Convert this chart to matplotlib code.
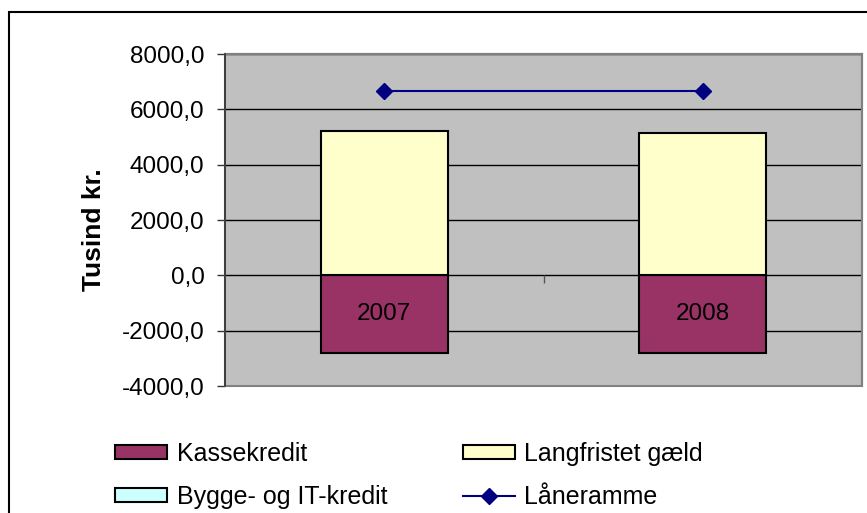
import matplotlib.pyplot as plt
import numpy as np
from matplotlib.patches import Patch, Rectangle
from matplotlib.lines import Line2D
from matplotlib.ticker import FuncFormatter, FixedLocator

plt.rcParams['font.family'] = ['Liberation Sans', 'DejaVu Sans']

years = ["2007", "2008"]
kassekredit = [-2800.0, -2800.0]
langfristet = [5230.0, 5150.0]
bygge_it = [0.0, 0.0]
laaneramme = [6670.0, 6670.0]
y_ticks = [-4000, -2000, 0, 2000, 4000, 6000, 8000]

fig = plt.figure(figsize=(8.67, 5.13), dpi=100)
ax = fig.add_axes([225 / 867, 1 - 386 / 513, 637 / 867, 332 / 513])
ax.set_facecolor("#C0C0C0")

x = np.arange(len(years))
width = 0.4

# gridlines drawn by hand so they stay under the bars
for t in y_ticks:
    ax.axhline(t, color="black", linewidth=1.0, zorder=0.5)

ax.bar(x, kassekredit, width, color="#993366", edgecolor="black", linewidth=1.5, zorder=1)
ax.bar(x, langfristet, width, color="#FFFFCC", edgecolor="black", linewidth=1.5, zorder=1)
ax.bar(x, bygge_it, width, bottom=langfristet, color="#CCFFFF", edgecolor="black",
       linewidth=0, zorder=1)
ax.plot(x, laaneramme, color="#000080", linewidth=1.5, marker="D", markersize=8.5, zorder=3)

ax.set_xlim(-0.5, 1.5)
ax.set_ylim(-4000, 8000)
ax.set_yticks(y_ticks)
ax.yaxis.set_major_formatter(FuncFormatter(lambda v, p: f"{v:.1f}".replace(".", ",")))
ax.tick_params(axis="y", direction="out", length=5.8, width=1, color="#333333",
               labelsize=17.5, pad=9)

ax.spines["bottom"].set_position(("data", 0))
ax.spines["bottom"].set_visible(False)
ax.set_xticks(x)
ax.set_xticklabels(years)
ax.xaxis.set_minor_locator(FixedLocator([0.5]))
ax.tick_params(axis="x", which="major", length=0, labelsize=17.5, pad=20)
ax.tick_params(axis="x", which="minor", length=5.8, width=1, color="#555555", direction="out")

for side in ["top", "right"]:
    ax.spines[side].set_color("#808080")
    ax.spines[side].set_linewidth(1.5)
ax.spines["left"].set_color("#333333")
ax.spines["left"].set_linewidth(1.2)
# bottom frame of the plot area
ax.add_patch(Rectangle((0, 0), 1, 1, transform=ax.transAxes, fill=False,
                       edgecolor="#808080", linewidth=1.5, zorder=4, clip_on=False))
ax.spines["left"].set_zorder(5)

ax.set_ylabel("Tusind kr.", fontsize=19, fontweight="bold")
ax.yaxis.set_label_coords(-0.187, 0.47)

handles = [
    Patch(facecolor="#993366", edgecolor="black", linewidth=1.5),
    Patch(facecolor="#CCFFFF", edgecolor="black", linewidth=1.5),
    Patch(facecolor="#FFFFCC", edgecolor="black", linewidth=1.5),
    Line2D([], [], color="#000080", linewidth=1.5, marker="D", markersize=8.5),
]
labels = ["Kassekredit", "Bygge- og IT-kredit", "Langfristet gæld", "Låneramme"]
fig.legend(handles, labels, loc="upper left", bbox_to_anchor=(115 / 867, 1 - 442 / 513),
           ncol=2, frameon=False, fontsize=18, handlelength=2.08, handleheight=0.52,
           handletextpad=0.4, columnspacing=3.0, labelspacing=0.75, borderaxespad=0,
           borderpad=0)

# outer chart border
fig.add_artist(Rectangle((9 / 867, -0.1), 1.2, (1 - 12 / 513) + 0.1,
                         transform=fig.transFigure, fill=False, edgecolor="black",
                         linewidth=1.5, clip_on=False))

fig.savefig("out.png", dpi=100)
